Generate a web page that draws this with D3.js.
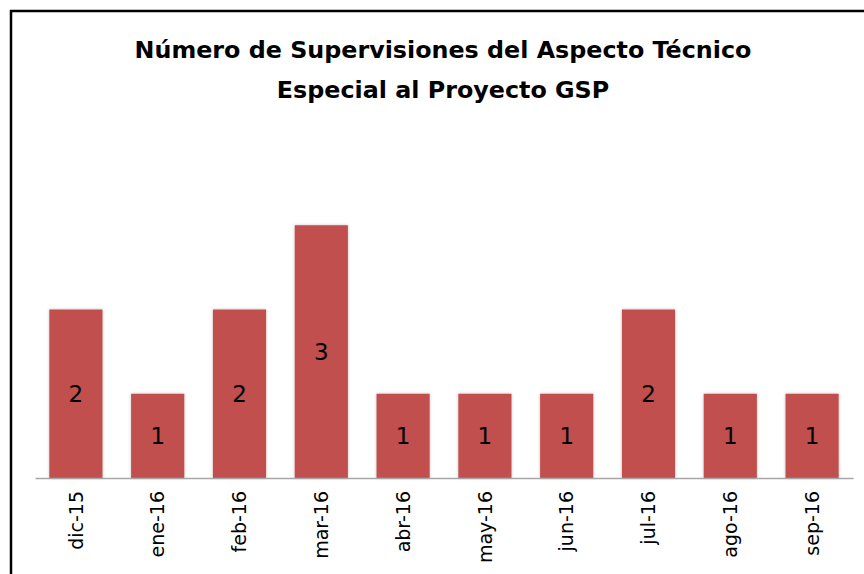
<!DOCTYPE html>
<html>
<head>
<meta charset="utf-8">
<script src="https://cdn.jsdelivr.net/npm/d3@7"></script>
<style>
  body { margin: 0; background: #fff; }
  svg { display: block; font-family: "DejaVu Sans", sans-serif; }
</style>
</head>
<body>
<div id="chart"></div>
<script>
// data
var meses = ["dic-15", "ene-16", "feb-16", "mar-16", "abr-16", "may-16", "jun-16", "jul-16", "ago-16", "sep-16"];
var supervisiones = [2, 1, 2, 3, 1, 1, 1, 2, 1, 1];
var titulo = ["Número de Supervisiones del Aspecto Técnico", "Especial al Proyecto GSP"];

var width = 864, height = 574;
var svg = d3.select("#chart").append("svg")
    .attr("width", width)
    .attr("height", height);

var defs = svg.append("defs");
var shadow = defs.append("filter").attr("id", "sombra")
    .attr("x", "-20%").attr("y", "-20%").attr("width", "140%").attr("height", "140%");
shadow.append("feDropShadow")
    .attr("dx", 0).attr("dy", 0).attr("stdDeviation", 1.5)
    .attr("flood-color", "#000").attr("flood-opacity", 0.25);

// chart border (right and bottom run off the picture)
svg.append("rect")
    .attr("x", 11).attr("y", 11)
    .attr("width", 900).attr("height", 600)
    .attr("fill", "#fff")
    .attr("stroke", "#000")
    .attr("stroke-width", 2.5);

// title
svg.append("text")
    .attr("x", 443)
    .attr("text-anchor", "middle")
    .style("font-weight", "bold")
    .style("font-size", "23.8px")
    .attr("fill", "#000")
    .selectAll("tspan")
    .data(titulo)
    .enter()
    .append("tspan")
    .attr("x", 443)
    .attr("y", (d, i) => 58 + i * 40)
    .text(d => d);

var xScale = d3.scaleBand().domain(meses).range([35, 853]).paddingInner(0.35).paddingOuter(0.175);
var yScale = d3.scaleLinear().domain([0, 4]).range([478, 141]);

var barras = svg.append("g");
barras.selectAll("rect")
    .data(supervisiones)
    .enter()
    .append("rect")
    .attr("x", (d, i) => xScale(meses[i]))
    .attr("y", d => yScale(d))
    .attr("width", xScale.bandwidth())
    .attr("height", d => yScale(0) - yScale(d))
    .attr("fill", "#C0504D")
    .attr("filter", "url(#sombra)");

barras.selectAll("text")
    .data(supervisiones)
    .enter()
    .append("text")
    .attr("x", (d, i) => xScale(meses[i]) + xScale.bandwidth() / 2)
    .attr("y", d => (yScale(d) + yScale(0)) / 2)
    .attr("dy", "0.36em")
    .attr("text-anchor", "middle")
    .style("font-size", "23px")
    .attr("fill", "#000")
    .text(d => d);

// x axis
var xAxis = svg.append("g")
    .attr("transform", "translate(0," + yScale(0) + ")")
    .call(d3.axisBottom(xScale).tickSize(0).tickPadding(0));
xAxis.select(".domain").attr("stroke", "#a6a6a6").attr("stroke-width", 1.5);
xAxis.selectAll("text")
    .attr("transform", "rotate(-90)")
    .attr("x", -13)
    .attr("y", 0)
    .attr("dy", "0.35em")
    .attr("text-anchor", "end")
    .style("font-family", "\"DejaVu Sans\", sans-serif")
    .style("font-size", "19px")
    .attr("fill", "#000");
</script>
</body>
</html>
